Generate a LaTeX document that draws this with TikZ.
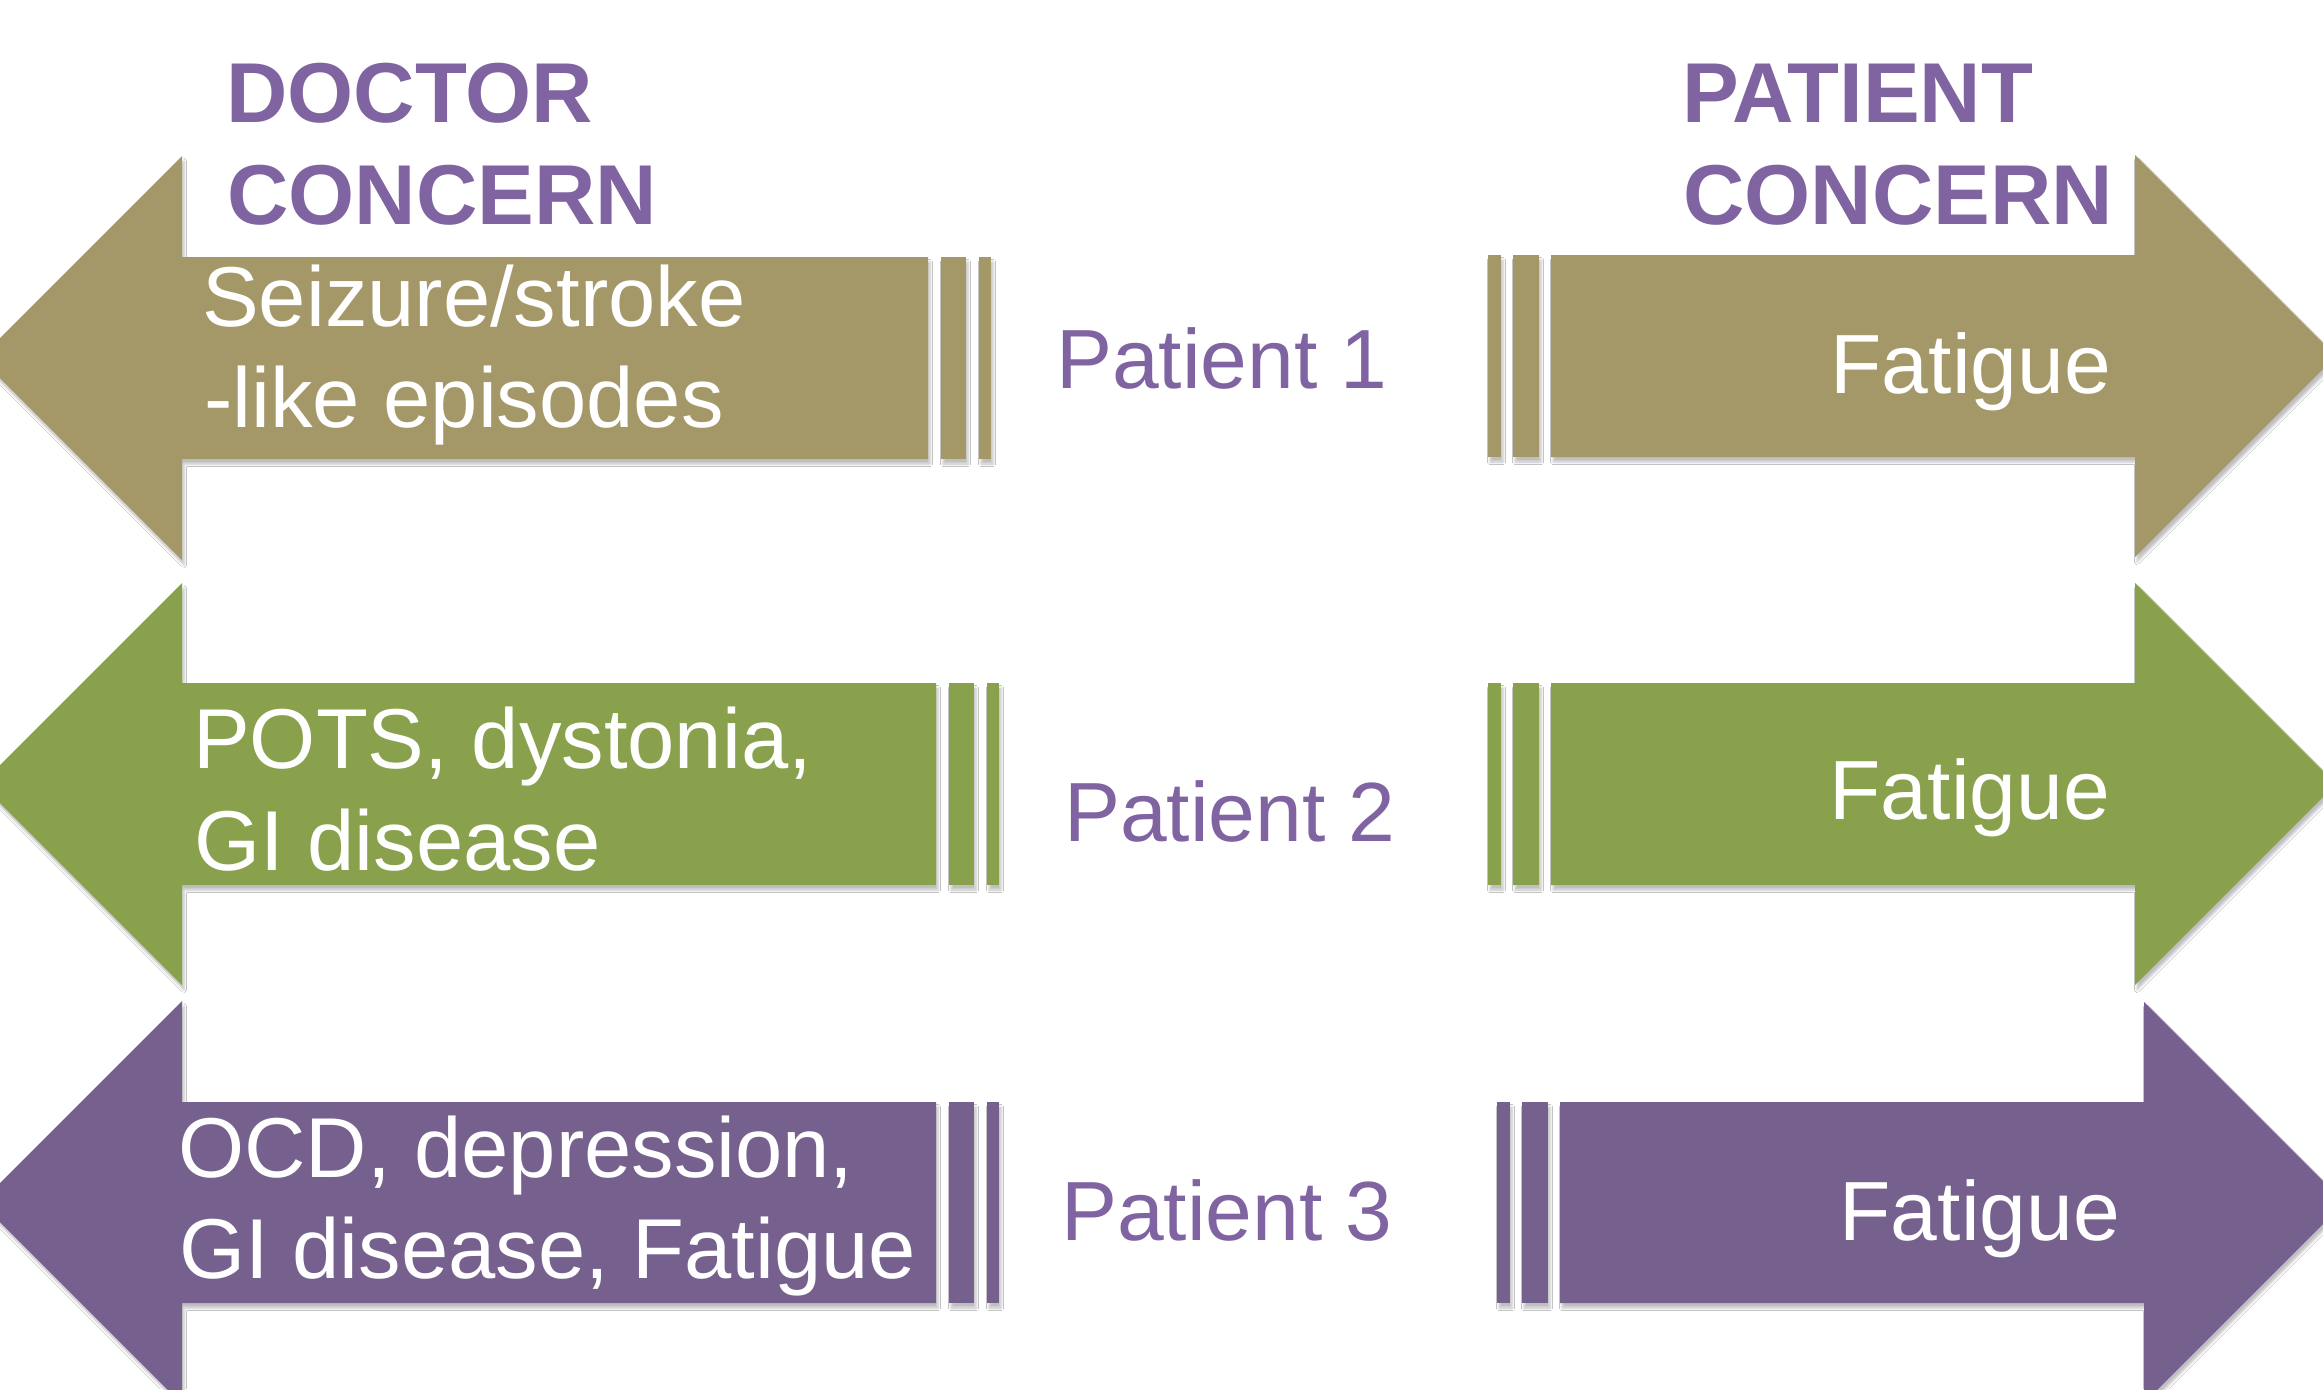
\documentclass[tikz,border=0pt]{standalone}
\usepackage{fontspec}
\setmainfont{Liberation Sans}
\usetikzlibrary{shadows.blur}
\definecolor{arrTan}{HTML}{A59868}
\definecolor{arrGreen}{HTML}{89A14C}
\definecolor{arrPurple}{HTML}{76608D}
\definecolor{txtPurple}{HTML}{8064A2}
\tikzset{
  shapefill/.style={fill=#1, blur shadow={shadow xshift=2pt, shadow yshift=-5pt, shadow blur radius=2.5pt, shadow opacity=25}},
  whitetxt/.style={text=white, font=\fontsize{85}{100}\selectfont, inner sep=0pt, anchor=base west},
  fattxt/.style={text=white, font=\fontsize{84}{100}\selectfont, inner sep=0pt, anchor=base east},
  pattxt/.style={text=txtPurple, font=\fontsize{84}{100}\selectfont, inner sep=0pt, anchor=base west},
  headtxt/.style={text=txtPurple, font=\fontsize{85}{100}\selectfont\bfseries, inner sep=0pt, anchor=base west}
}
% #1 colour, #2 shaft top, #3 shaft bottom, #4 head top, #5 x shift
\newcommand\drawLeftArrow[5]{%
  \pgfmathsetmacro\myM{(#2+#3)/2}%
  \pgfmathsetmacro\myHB{#2+#3-#4}%
  \pgfmathsetmacro\myTip{182-(\myM-#4)}%
  \path[shapefill=#1] (928+#5,#2) -- (182,#2) -- (182,#4) -- (\myTip,\myM) -- (182,\myHB) -- (182,#3) -- (928+#5,#3) -- cycle;
  \path[shapefill=#1] (941+#5,#2) rectangle (966+#5,#3);
  \path[shapefill=#1] (979+#5,#2) rectangle (991+#5,#3);
}
\newcommand\drawRightArrow[5]{%
  \pgfmathsetmacro\myM{(#2+#3)/2}%
  \pgfmathsetmacro\myHB{#2+#3-#4}%
  \pgfmathsetmacro\myTip{2135+#5+(\myM-#4)}%
  \path[shapefill=#1] (1488+#5,#2) rectangle (1501+#5,#3);
  \path[shapefill=#1] (1513+#5,#2) rectangle (1539+#5,#3);
  \path[shapefill=#1] (1551+#5,#2) -- (2135+#5,#2) -- (2135+#5,#4) -- (\myTip,\myM) -- (2135+#5,\myHB) -- (2135+#5,#3) -- (1551+#5,#3) -- cycle;
}
\begin{document}
\begin{tikzpicture}[x=1pt,y=-1pt]
\useasboundingbox (0,0) rectangle (2323,1389);
\clip (0,0) rectangle (2323,1389);
\fill[white] (0,0) rectangle (2323,1389);

% headings
\node[headtxt] (dochead1) at (226,122.5) {DOCTOR};
\node[headtxt] (dochead2) at (227,224) {CONCERN};
\node[headtxt] (pathead1) at (1682,122.5) {PATIENT};
\node[headtxt] (pathead2) at (1683,224) {CONCERN};

% row 1
\drawLeftArrow{arrTan}{257}{459}{156}{0}
\drawRightArrow{arrTan}{255}{457}{155}{0}
\node[whitetxt] (d1a) at (202,326) {Seizure/stroke};
\node[whitetxt] (d1b) at (204,427) {-like episodes};
\node[pattxt] (p1) at (1056,388) {Patient 1};
\node[fattxt] (f1) at (2111,393) {Fatigue};

% row 2
\drawLeftArrow{arrGreen}{683}{885}{583}{8}
\drawRightArrow{arrGreen}{683}{885}{583}{0}
\node[whitetxt] (d2a) at (193,768) {POTS, dystonia,};
\node[whitetxt] (d2b) at (194,870) {GI disease};
\node[pattxt] (p2) at (1064,841) {Patient 2};
\node[fattxt] (f2) at (2110,819) {Fatigue};

% row 3
\drawLeftArrow{arrPurple}{1102}{1303}{1001}{8}
\drawRightArrow{arrPurple}{1102}{1303}{1002}{9}
\node[whitetxt] (d3a) at (178,1177) {OCD, depression,};
\node[whitetxt] (d3b) at (179,1278) {GI disease, Fatigue};
\node[pattxt] (p3) at (1061,1240) {Patient 3};
\node[fattxt] (f3) at (2120,1240) {Fatigue};
\end{tikzpicture}
\end{document}
